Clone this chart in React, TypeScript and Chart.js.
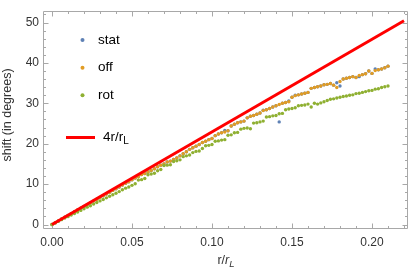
import { useEffect, useRef } from "react";
import { Chart, registerables } from "chart.js";

Chart.register(...registerables);

const rValues = [
  0.000, 0.002, 0.004, 0.006, 0.008, 0.010, 0.012, 0.014, 0.016, 0.018,
  0.020, 0.022, 0.024, 0.026, 0.028, 0.030, 0.032, 0.034, 0.036, 0.038,
  0.040, 0.042, 0.044, 0.046, 0.048, 0.050, 0.052, 0.054, 0.056, 0.058,
  0.060, 0.062, 0.064, 0.066, 0.068, 0.070, 0.072, 0.074, 0.076, 0.078,
  0.080, 0.082, 0.084, 0.086, 0.088, 0.090, 0.092, 0.094, 0.096, 0.098,
  0.100, 0.102, 0.104, 0.106, 0.108, 0.110, 0.112, 0.114, 0.116, 0.118,
  0.120, 0.122, 0.124, 0.126, 0.128, 0.130, 0.132, 0.134, 0.136, 0.138,
  0.140, 0.142, 0.144, 0.146, 0.148, 0.150, 0.152, 0.154, 0.156, 0.158,
  0.160, 0.162, 0.164, 0.166, 0.168, 0.170, 0.172, 0.174, 0.176, 0.178,
  0.180, 0.182, 0.184, 0.186, 0.188, 0.190, 0.192, 0.194, 0.196, 0.198,
  0.200, 0.202, 0.204, 0.206, 0.208, 0.210,
];

const statShift = [
  0, 0.45, 0.9, 1.35, 1.8, 2.25, 2.7, 3.15, 3.6, 4.05,
  4.45, 4.9, 5.35, 5.8, 6.25, 6.7, 7.1, 7.55, 8.0, 8.45,
  8.85, 9.3, 9.75, 10.2, 10.6, 11.05, 11.5, 11.9, 12.35, 12.6,
  13.0, 13.4, 13.8, 14.3, 14.7, 15.0, 15.5, 15.7, 16.1, 16.5,
  17.0, 17.5, 18.0, 18.6, 19.0, 19.4, 19.8, 20.3, 20.6, 21.0,
  21.3, 22.0, 22.4, 22.7, 23.3, 23.2, 24.4, 24.8, 25.2, 25.4,
  25.6, 26.4, 26.8, 27.0, 27.3, 27.6, 28.3, 28.4, 28.7, 29.1,
  29.4, 25.4, 30.0, 30.2, 30.6, 31.5, 32.0, 32.1, 32.3, 32.5,
  32.7, 33.7, 33.9, 34.1, 34.3, 34.6, 34.7, 34.9, 34.5, 35.1,
  34.3, 36.0, 36.2, 36.4, 36.6, 36.4, 36.6, 37.1, 37.3, 38.0,
  37.4, 38.5, 38.3, 38.5, 38.8, 39.2,
];

const offShift = [
  0, 0.45, 0.9, 1.35, 1.8, 2.25, 2.7, 3.15, 3.6, 4.05,
  4.45, 4.9, 5.35, 5.8, 6.25, 6.7, 7.1, 7.55, 8.0, 8.45,
  8.85, 9.3, 9.75, 10.2, 10.6, 11.05, 11.5, 11.9, 12.35, 12.6,
  13.0, 13.4, 13.8, 14.3, 14.7, 15.0, 15.5, 15.7, 16.1, 16.5,
  17.0, 17.5, 18.0, 18.6, 19.0, 19.4, 19.8, 20.3, 20.6, 21.0,
  21.3, 22.0, 22.4, 22.7, 22.9, 23.2, 24.4, 24.8, 25.2, 25.4,
  25.6, 26.4, 26.8, 27.0, 27.3, 27.6, 28.2, 28.4, 28.7, 29.1,
  29.4, 29.7, 30.0, 30.2, 30.4, 31.5, 31.9, 32.1, 32.3, 32.5,
  32.7, 33.7, 33.9, 34.1, 34.3, 34.6, 34.7, 34.9, 34.5, 33.9,
  35.4, 36.0, 36.2, 36.4, 36.6, 36.4, 36.9, 37.1, 37.3, 38.0,
  37.4, 38.1, 38.3, 38.5, 38.8, 39.2,
];

const rotShift = [
  0.0, 0.4, 0.8, 1.2, 1.6, 1.95, 2.35, 2.7, 3.1, 3.5,
  3.9, 4.3, 4.65, 5.05, 5.45, 5.85, 6.2, 6.6, 7.0, 7.35,
  7.75, 8.15, 8.6, 9.0, 9.3, 9.7, 10.1, 11.0, 11.1, 11.4,
  12.3, 12.5, 12.7, 13.3, 13.6, 14.6, 14.7, 14.8, 15.6, 15.8,
  16.0, 16.8, 17.0, 17.2, 17.8, 18.1, 18.2, 18.8, 19.5, 19.6,
  19.8, 20.6, 20.7, 20.9, 21.0, 22.1, 22.2, 22.7, 22.8, 23.6,
  23.8, 23.9, 23.7, 25.1, 25.2, 25.4, 25.6, 26.6, 26.7, 26.9,
  27.0, 27.4, 27.5, 28.4, 28.6, 28.7, 28.9, 29.4, 29.5, 29.6,
  29.8, 29.1, 30.0, 29.8, 30.1, 30.4, 30.7, 31.0, 31.1, 31.3,
  31.5, 31.7, 31.8, 32.0, 32.1, 32.4, 32.5, 32.7, 32.9, 33.1,
  33.2, 33.5, 33.6, 33.9, 34.1, 34.3,
];

const lineR = [0, 0.22];
const lineShift = [0, 50.42];

const xMajorTicks = [0, 0.05, 0.1, 0.15, 0.2];
const xMinorTicks = [0.01, 0.02, 0.03, 0.04, 0.06, 0.07, 0.08, 0.09, 0.11, 0.12, 0.13, 0.14, 0.16, 0.17, 0.18, 0.19, 0.21, 0.22];
const yMajorTicks = [0, 10, 20, 30, 40, 50];
const yMinorTicks = [2, 4, 6, 8, 12, 14, 16, 18, 22, 24, 26, 28, 32, 34, 36, 38, 42, 44, 46, 48, 52];

const seriesNames = ["stat", "off", "rot"];
const seriesColors = ["#5E81B5", "#E19C24", "#8FB032"];
const lineName = "4r/r";
const lineSub = "L";
const xTitle = "r/r";
const yTitle = "shift (in degrees)";

const FONT = '"Liberation Sans", Arial, sans-serif';
const FRAME = "#a8a8a8";

const decorPlugin = {
  id: "decor",
  beforeDatasetsDraw(chart: any) {
    const { ctx, chartArea: a, scales } = chart;
    const xs = scales.x;
    const ys = scales.y;
    const L = Math.round(a.left) + 0.5;
    const R = Math.round(a.right) - 0.5;
    const T = Math.round(a.top) + 0.5;
    const B = Math.round(a.bottom) - 0.5;
    ctx.save();
    ctx.strokeStyle = FRAME;
    ctx.lineWidth = 1;
    ctx.beginPath();
    ctx.rect(L, T, R - L, B - T);
    ctx.stroke();
    const xt = (v: number, len: number) => {
      const p = Math.round(xs.getPixelForValue(v)) + 0.5;
      ctx.moveTo(p, B);
      ctx.lineTo(p, B - len);
      ctx.moveTo(p, T);
      ctx.lineTo(p, T + len);
    };
    const yt = (v: number, len: number) => {
      const p = Math.round(ys.getPixelForValue(v)) + 0.5;
      ctx.moveTo(L, p);
      ctx.lineTo(L + len, p);
      ctx.moveTo(R, p);
      ctx.lineTo(R - len, p);
    };
    ctx.beginPath();
    xMajorTicks.forEach((v) => xt(v, 5));
    xMinorTicks.forEach((v) => xt(v, 2.5));
    yMajorTicks.forEach((v) => yt(v, 5));
    yMinorTicks.forEach((v) => yt(v, 2.5));
    ctx.stroke();
    ctx.restore();
  },
  afterDraw(chart: any) {
    const { ctx } = chart;
    ctx.save();
    // legend
    const lx = 82.5;
    const ly = [40, 67.7, 95.3];
    ctx.font = `13.5px ${FONT}`;
    ctx.textBaseline = "middle";
    ctx.textAlign = "left";
    seriesNames.forEach((n, i) => {
      ctx.fillStyle = seriesColors[i];
      ctx.beginPath();
      ctx.arc(lx, ly[i], 2, 0, Math.PI * 2);
      ctx.fill();
      ctx.fillStyle = "#000";
      ctx.fillText(n, 98, ly[i]);
    });
    ctx.strokeStyle = "#FF0000";
    ctx.lineWidth = 3;
    ctx.beginPath();
    ctx.moveTo(66, 137.5);
    ctx.lineTo(95, 137.5);
    ctx.stroke();
    ctx.fillStyle = "#000";
    ctx.fillText(lineName, 103, 137.5);
    const w = ctx.measureText(lineName).width;
    ctx.font = `10px ${FONT}`;
    ctx.fillText(lineSub, 103 + w, 141.5);
    // x title
    ctx.font = `12.5px ${FONT}`;
    ctx.textBaseline = "middle";
    const part1 = "r/";
    ctx.font = `12.5px ${FONT}`;
    const w1 = ctx.measureText(part1).width;
    ctx.font = `italic 12.5px ${FONT}`;
    const w2 = ctx.measureText("r").width;
    ctx.font = `italic 9.5px ${FONT}`;
    const w3 = ctx.measureText(lineSub).width;
    let x0 = 226 - (w1 + w2 + w3) / 2;
    ctx.fillStyle = "#333";
    ctx.font = `12.5px ${FONT}`;
    ctx.fillText(part1, x0, 260.5);
    ctx.font = `italic 12.5px ${FONT}`;
    ctx.fillText(xTitle.slice(2), x0 + w1, 260.5);
    ctx.font = `italic 9.5px ${FONT}`;
    ctx.fillText(lineSub, x0 + w1 + w2, 264.5);
    // y title
    ctx.translate(8, 115);
    ctx.rotate(-Math.PI / 2);
    ctx.font = `12.5px ${FONT}`;
    ctx.textAlign = "center";
    ctx.fillText(yTitle, 0, 0);
    ctx.restore();
  },
};

export default function App() {
  const ref = useRef<HTMLCanvasElement | null>(null);
  useEffect(() => {
    if (!ref.current) return;
    const pts = (arr: number[]) => rValues.map((r, i) => ({ x: r, y: arr[i] }));
    const chart = new Chart(ref.current, {
      type: "scatter",
      data: {
        datasets: [
          {
            type: "line",
            label: "4r/rL",
            data: lineR.map((r, i) => ({ x: r, y: lineShift[i] })),
            borderColor: "#FF0000",
            borderWidth: 3,
            pointRadius: 0,
            showLine: true,
            fill: false,
            order: 0,
          } as any,
          {
            label: seriesNames[2],
            data: pts(rotShift),
            backgroundColor: seriesColors[2],
            borderWidth: 0,
            pointRadius: 1.7,
            order: 1,
          },
          {
            label: seriesNames[1],
            data: pts(offShift),
            backgroundColor: seriesColors[1],
            borderWidth: 0,
            pointRadius: 1.7,
            order: 2,
          },
          {
            label: seriesNames[0],
            data: pts(statShift),
            backgroundColor: seriesColors[0],
            borderWidth: 0,
            pointRadius: 1.7,
            order: 3,
          },
        ],
      },
      options: {
        animation: false,
        responsive: true,
        maintainAspectRatio: false,
        layout: { padding: { left: 0, right: 7, top: 1, bottom: 0 } },
        plugins: { legend: { display: false }, tooltip: { enabled: false } },
        scales: {
          x: {
            type: "linear",
            min: -0.005625,
            max: 0.2225,
            grid: { display: false, drawTicks: false },
            border: { display: false },
            ticks: {
              autoSkip: false,
              maxRotation: 0,
              padding: 6,
              color: "#333",
              font: { family: FONT, size: 12 },
              callback: (v: any) => Number(v).toFixed(2),
            },
            afterBuildTicks: (s: any) => {
              s.ticks = xMajorTicks.map((v) => ({ value: v }));
            },
            afterFit: (s: any) => {
              s.height = 46;
            },
          },
          y: {
            type: "linear",
            min: -1.11,
            max: 52.8,
            grid: { display: false, drawTicks: false },
            border: { display: false },
            ticks: {
              autoSkip: false,
              padding: 4,
              color: "#333",
              font: { family: FONT, size: 12 },
              callback: (v: any) => String(v),
            },
            afterBuildTicks: (s: any) => {
              s.ticks = yMajorTicks.map((v) => ({ value: v }));
            },
            afterFit: (s: any) => {
              s.width = 43;
            },
          },
        },
      },
      plugins: [decorPlugin],
    });
    return () => chart.destroy();
  }, []);
  return (
    <div style={{ position: "fixed", left: 0, top: 0, width: 415, height: 275, background: "#fff" }}>
      <canvas ref={ref} />
    </div>
  );
}
